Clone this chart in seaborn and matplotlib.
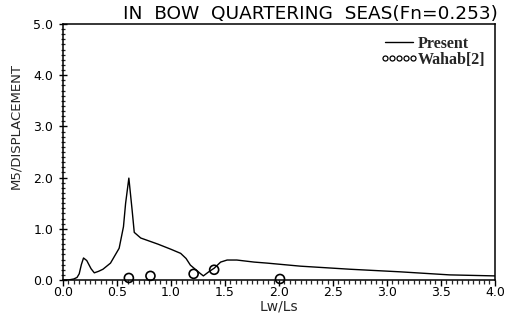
import matplotlib
matplotlib.use("Agg")
import matplotlib.pyplot as plt
from matplotlib.lines import Line2D
from matplotlib.legend_handler import HandlerLine2D
from matplotlib.ticker import MultipleLocator
import seaborn as sns
import pandas as pd

# Present computation: pitch moment M5 / displacement vs wave-length ratio
present_lw_ls = [0.00, 0.05, 0.10, 0.13, 0.15, 0.17, 0.19, 0.22, 0.26, 0.29,
                 0.33, 0.37, 0.44, 0.52, 0.56, 0.58, 0.61, 0.64, 0.66, 0.72,
                 0.88, 1.00, 1.09, 1.14, 1.18, 1.27, 1.30, 1.35, 1.40, 1.46,
                 1.52, 1.61, 1.77, 1.89, 2.20, 2.66, 3.12, 3.58, 4.00]
present_m5 = [0.00, 0.00, 0.02, 0.05, 0.12, 0.30, 0.43, 0.38, 0.22, 0.14,
              0.17, 0.21, 0.33, 0.62, 1.04, 1.50, 1.99, 1.37, 0.93, 0.82,
              0.70, 0.60, 0.52, 0.42, 0.29, 0.13, 0.08, 0.16, 0.23, 0.35,
              0.39, 0.39, 0.35, 0.33, 0.27, 0.21, 0.16, 0.10, 0.08]

# Reference measurements (Wahab)
wahab_lw_ls = [0.61, 0.81, 1.21, 1.40, 2.01]
wahab_m5 = [0.04, 0.08, 0.12, 0.20, 0.02]

x_ticks = [0.0, 0.5, 1.0, 1.5, 2.0, 2.5, 3.0, 3.5, 4.0]
y_ticks = [0.0, 1.0, 2.0, 3.0, 4.0, 5.0]

sns.set_style("ticks")
plt.rcParams["font.family"] = ["DejaVu Sans"]

present_df = pd.DataFrame({"lw_ls": present_lw_ls, "m5": present_m5})
wahab_df = pd.DataFrame({"lw_ls": wahab_lw_ls, "m5": wahab_m5})

fig = plt.figure(figsize=(5.06, 3.20), dpi=100)
ax = fig.add_axes([0.1245, 0.125, 0.8535, 0.80])

sns.lineplot(data=present_df, x="lw_ls", y="m5", ax=ax, color="black",
             linewidth=1.0, sort=False, estimator=None)
sns.scatterplot(data=wahab_df, x="lw_ls", y="m5", ax=ax, marker="o",
                s=42, facecolor="none", edgecolor="black", linewidth=1.2,
                zorder=3, clip_on=False)

ax.set_xlim(0.0, 4.0)
ax.set_ylim(0.0, 5.0)
ax.set_xticks(x_ticks)
ax.set_xticklabels([f"{v:.1f}" for v in x_ticks])
ax.set_yticks(y_ticks)
ax.set_yticklabels([f"{v:.1f}" for v in y_ticks])
ax.xaxis.set_minor_locator(MultipleLocator(0.05))
ax.yaxis.set_minor_locator(MultipleLocator(0.1))
ax.tick_params(axis="x", which="major", direction="out", length=4, width=1,
               labelsize=9, pad=0, colors="black")
ax.tick_params(axis="x", which="minor", direction="out", length=3, width=0.9)
ax.tick_params(axis="y", which="major", direction="inout", length=6, width=1,
               labelsize=9, pad=4, colors="black")
ax.tick_params(axis="y", which="minor", direction="inout", length=3, width=0.9)

for side in ("left", "right", "top", "bottom"):
    ax.spines[side].set_visible(True)
    ax.spines[side].set_linewidth(1.1)
    ax.spines[side].set_color("black")

ax.set_xlabel("Lw/Ls", fontsize=10, labelpad=0.5)
ax.set_ylabel("M5/DISPLACEMENT", fontsize=9.5)
ax.yaxis.set_label_coords(-0.095, 0.60)

ax.text(1.007, 1.003, "IN  BOW  QUARTERING  SEAS(Fn=0.253)", transform=ax.transAxes,
        ha="right", va="bottom", fontsize=13.3, color="black")

handles = [
    Line2D([], [], color="black", linewidth=1.0),
    Line2D([], [], color="black", linestyle="none", marker="o", markersize=3.6,
           markerfacecolor="none", markeredgewidth=0.9),
]
ax.legend(handles, ["Present", "Wahab[2]"], loc="upper left",
          bbox_to_anchor=(0.745, 0.955), frameon=False, numpoints=5,
          handlelength=1.75, handletextpad=0.3, labelspacing=0.0,
          borderpad=0, borderaxespad=0,
          handler_map={Line2D: HandlerLine2D(marker_pad=0.0)},
          prop={"family": "Liberation Serif", "weight": "bold", "size": 11.5})

fig.savefig("out.png", dpi=100)
